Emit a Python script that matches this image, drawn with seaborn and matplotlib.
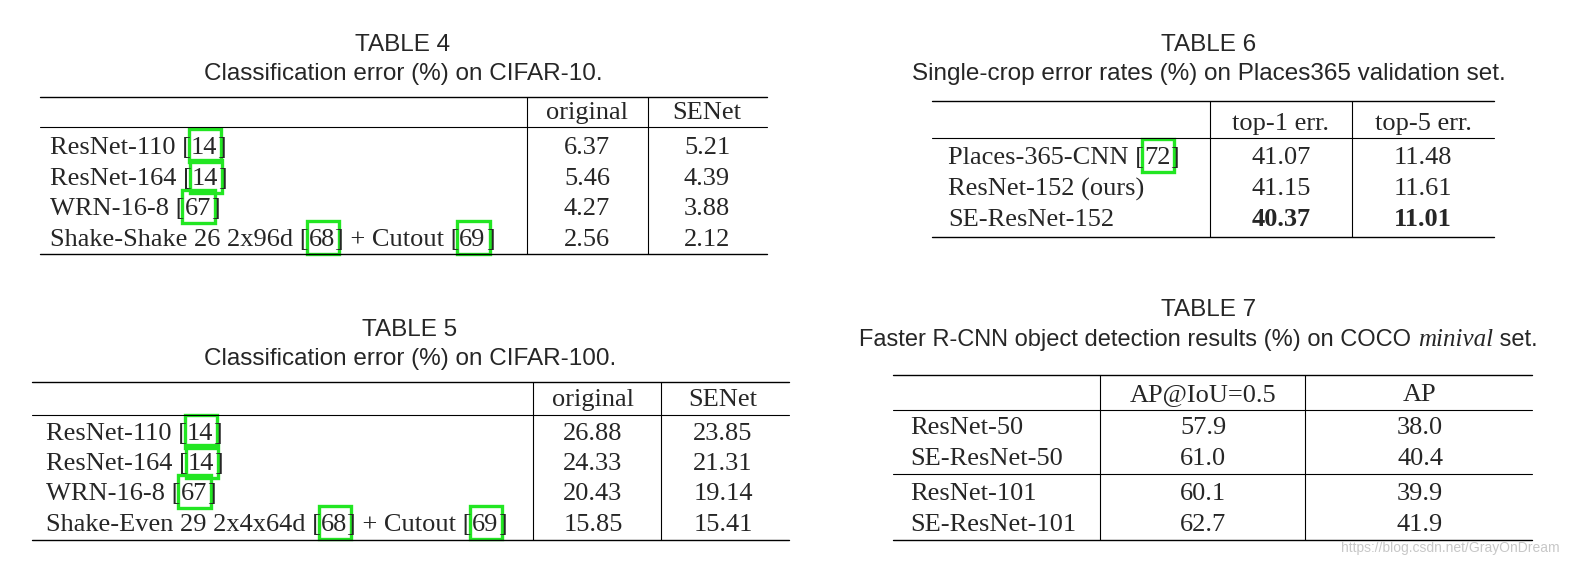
import seaborn as sns
import matplotlib.pyplot as plt
from matplotlib.patches import Rectangle

sns.set_theme(style="white")

# table contents
t4_rows = [["ResNet-110 [", ("14",), "]"], ["ResNet-164 [", ("14",), "]"], ["WRN-16-8 [", ("67",), "]"],
           ["Shake-Shake 26 2x96d [", ("68",), "] + Cutout [", ("69",), "]"]]
t4_cols = ["original", "SENet"]
t4_original = ["6.37", "5.46", "4.27", "2.56"]
t4_senet = ["5.21", "4.39", "3.88", "2.12"]

t5_rows = [["ResNet-110 [", ("14",), "]"], ["ResNet-164 [", ("14",), "]"], ["WRN-16-8 [", ("67",), "]"],
           ["Shake-Even 29 2x4x64d [", ("68",), "] + Cutout [", ("69",), "]"]]
t5_cols = ["original", "SENet"]
t5_original = ["26.88", "24.33", "20.43", "15.85"]
t5_senet = ["23.85", "21.31", "19.14", "15.41"]

t6_rows = [["Places-365-CNN [", ("72",), "]"], ["ResNet-152 (ours)"], ["SE-ResNet-152"]]
t6_cols = ["top-1 err.", "top-5 err."]
t6_top1 = ["41.07", "41.15", "40.37"]
t6_top5 = ["11.48", "11.61", "11.01"]

t7_rows = [["ResNet-50"], ["SE-ResNet-50"], ["ResNet-101"], ["SE-ResNet-101"]]
t7_cols = ["AP@IoU=0.5", "AP"]
t7_ap50 = ["57.9", "61.0", "60.1", "62.7"]
t7_ap = ["38.0", "40.4", "39.9", "41.9"]

W, H = 1577, 566
fig = plt.figure(figsize=(W / 100, H / 100), dpi=100)
ax = fig.add_axes([0, 0, 1, 1])
ax.set_xlim(0, W)
ax.set_ylim(H, 0)
ax.axis("off")
renderer = fig.canvas.get_renderer()

SERIF = "Liberation Serif"
SANS = "Liberation Sans"
FS = 19
TFS = 17.5
DY = 3  # text sits a little low in its row
GREEN = "#22e622"


def draw_label(x, y, parts):
    for p in parts:
        boxed = isinstance(p, tuple)
        s = p[0] if boxed else p
        t = ax.text(x, y + DY, s, fontsize=FS, family=SERIF, va="center", ha="left")
        w = t.get_window_extent(renderer).width
        if boxed:
            ax.add_patch(Rectangle((x - 2, y - 16), w + 6, 33, fill=False, ec=GREEN, lw=2.4))
        x += w


def hline(x0, x1, y, lw=1.0):
    ax.plot([x0, x1], [y, y], color="black", lw=lw)


def vline(x, y0, y1):
    ax.plot([x, x], [y0, y1], color="black", lw=0.8)


def table(cx, ty, num, title, left, right, top, header_y, hdr_line, row_ys, bottom, seps, centers,
          label_x, rows, cols, values, bold_last=False, extra_lines=()):
    ax.text(cx, ty, num, fontsize=TFS, family=SANS, ha="center", va="center")
    if title is not None:
        ax.text(cx, ty + 29, title, fontsize=TFS, family=SANS, ha="center", va="center")
    hline(left, right, top)
    hline(left, right, hdr_line, 0.8)
    hline(left, right, bottom)
    for y in extra_lines:
        hline(left, right, y, 0.8)
    for sx in seps:
        vline(sx, top, bottom)
    for c, name in zip(centers, cols):
        ax.text(c, header_y + DY, name, fontsize=FS, family=SERIF, ha="center", va="center")
    for i, (y, r) in enumerate(zip(row_ys, rows)):
        draw_label(label_x, y, r)
        for c, col in zip(centers, values):
            fw = "bold" if (bold_last and i == len(rows) - 1) else "normal"
            ax.text(c, y + DY, col[i], fontsize=FS, family=SERIF, ha="center", va="center", weight=fw)


table(403, 45, "TABLE 4", "Classification error (%) on CIFAR-10.", 40, 767, 97, 110, 127,
      [145, 176, 206, 237], 254, [527, 648], [587, 707], 50, t4_rows, t4_cols, [t4_original, t4_senet])
table(410, 330, "TABLE 5", "Classification error (%) on CIFAR-100.", 32, 789, 382, 397, 415,
      [431, 461, 491, 522], 540, [533, 661], [593, 723], 46, t5_rows, t5_cols, [t5_original, t5_senet])
table(1209, 45, "TABLE 6", "Single-crop error rates (%) on Places365 validation set.", 932, 1494, 101, 121, 138,
      [155, 186, 217], 237, [1210, 1352], [1281, 1423], 948, t6_rows, t6_cols, [t6_top1, t6_top5], bold_last=True)
table(1209, 310, "TABLE 7", None, 893, 1532, 375, 392, 410,
      [425, 456, 491, 522], 540, [1100, 1305], [1203, 1420], 910, t7_rows, t7_cols, [t7_ap50, t7_ap],
      extra_lines=[474])

# table 7 caption with italic serif word
x = 859
for s, fam, style in [("Faster R-CNN object detection results (%) on COCO ", SANS, "normal"),
                      ("minival", SERIF, "italic"), (" set.", SANS, "normal")]:
    t = ax.text(x, 340, s, fontsize=17 if fam == SANS else 18, family=fam, style=style, va="center", ha="left")
    x += t.get_window_extent(renderer).width

ax.text(1560, 548, "https://blog.csdn.net/GrayOnDream", fontsize=10, family=SANS, color="#c8c8c8",
        ha="right", va="center")

fig.savefig("out.png", dpi=100, facecolor="white")
